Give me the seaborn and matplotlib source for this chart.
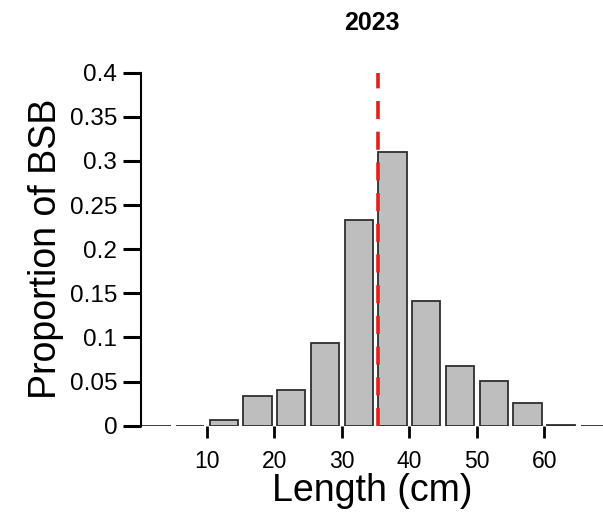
import matplotlib
matplotlib.use("Agg")
import matplotlib.pyplot as plt
import seaborn as sns
import pandas as pd

# ---- data ----
bin_mid = [2.5, 7.5, 12.5, 17.5, 22.5, 27.5, 32.5, 37.5, 42.5, 47.5, 52.5, 57.5, 62.5, 67.5]
proportion = [0.0, 0.0, 0.0065, 0.034, 0.0407, 0.0934, 0.233, 0.310, 0.141, 0.0678, 0.0505, 0.0256, 0.001, 0.0]
mean_length = 35.3
x_ticks = [10, 20, 30, 40, 50, 60]
y_ticks = [0, 0.05, 0.1, 0.15, 0.2, 0.25, 0.3, 0.35, 0.4]
y_tick_labels = ["0", "0.05", "0.1", "0.15", "0.2", "0.25", "0.3", "0.35", "0.4"]
title = "2023"
x_label = "Length (cm)"
y_label = "Proportion of BSB"

df = pd.DataFrame({"mid": bin_mid, "prop": proportion})

sns.set_style("white")
plt.rcParams["font.family"] = ["Liberation Sans", "DejaVu Sans"]
plt.rcParams["text.color"] = "black"
plt.rcParams["axes.labelcolor"] = "black"
plt.rcParams["xtick.color"] = "black"
plt.rcParams["ytick.color"] = "black"

fig = plt.figure(figsize=(6.03, 5.14), dpi=100)
ax = fig.add_axes([0.2338, 0.1718, 1.0 - 0.2338, 0.8586 - 0.1718])

sns.barplot(data=df, x="mid", y="prop", native_scale=True, width=0.84,
            color="#BEBEBE", saturation=1, edgecolor="#2E2E2E", linewidth=1.3,
            errorbar=None, ax=ax)

ax.axvline(mean_length, color="#E0201F", lw=2.6, ls=(0, (5, 3.5)), zorder=5)

ax.set_xlim(0.22, 68.7)
ax.set_ylim(0, 0.4)
ax.set_xticks(x_ticks)
ax.set_xticklabels([str(t) for t in x_ticks], fontsize=16.5, color="black")
ax.set_yticks(y_ticks)
ax.set_yticklabels(y_tick_labels, fontsize=17.5, color="black")

for s in ["top", "right", "bottom"]:
    ax.spines[s].set_visible(False)
ax.spines["left"].set_color("black")
ax.spines["left"].set_linewidth(1.5)

ax.tick_params(axis="y", direction="out", length=13, width=2.2, color="black", pad=4, left=True)
ax.tick_params(axis="x", direction="out", length=8.5, width=2.0, color="black", pad=9, bottom=True)

ax.set_xlabel(x_label, fontsize=27, labelpad=0, color="black")
ax.set_ylabel(y_label, fontsize=27, labelpad=4, color="black")
ax.set_title(title, fontsize=18, fontweight="bold", pad=31, color="black")

fig.savefig("out.png", dpi=100)
